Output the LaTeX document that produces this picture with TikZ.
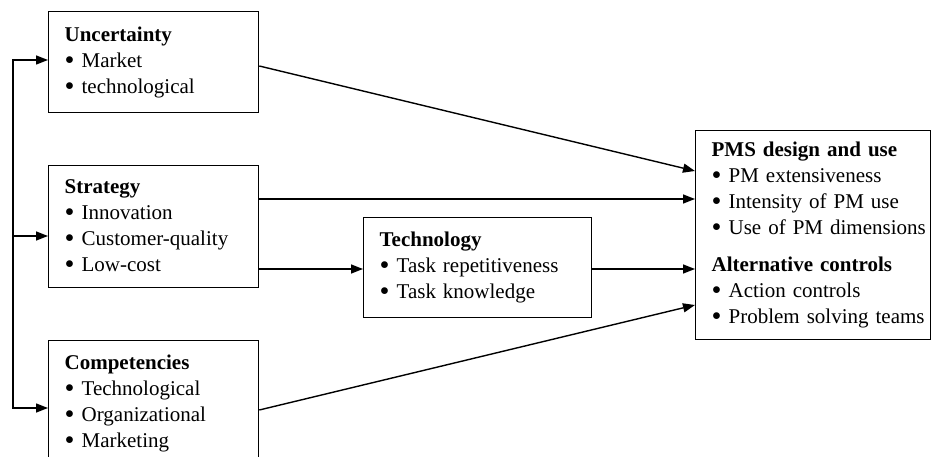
\documentclass[tikz,border=0pt]{standalone}
\usepackage{fontspec}
\setmainfont{Liberation Serif}
\usetikzlibrary{arrows.meta,calc}
\newcommand{\bul}[1]{\mbox{\makebox[17pt][l]{\raisebox{-2.2pt}{\scalebox{1.35}{\textbullet}}}#1}}
\newcommand{\boxfont}{\fontsize{21pt}{26pt}\selectfont\hyphenpenalty=10000\relax}
\begin{document}
\begin{tikzpicture}[x=1pt,y=-1pt,
  box/.style={draw, line width=1.3pt, anchor=north west, inner xsep=16pt, inner ysep=0pt,
    align=left, font=\boxfont},
  arr/.style={line width=1.4pt, -{Triangle[length=12pt,width=9pt]}},
  conn/.style={line width=1.4pt}]
\clip (0,0) rectangle (932,457);
\useasboundingbox (0,0) rectangle (932,457);
\node[box, text width=178pt, minimum height=101pt] (unc) at (48,11)
  {\textbf{Uncertainty}\\ \bul{Market}\\ \bul{technological}};
\node[box, text width=178pt, minimum height=122pt] (str) at (48,165)
  {\textbf{Strategy}\\ \bul{Innovation}\\ \bul{Customer-quality}\\ \bul{Low-cost}};
\node[box, text width=178pt, minimum height=126pt] (com) at (48,340)
  {\textbf{Competencies}\\ \bul{Technological}\\ \bul{Organizational}\\ \bul{Marketing}};
\node[box, text width=196pt, minimum height=100pt] (tec) at (363,217)
  {\textbf{Technology}\\ \bul{Task repetitiveness}\\ \bul{Task knowledge}};
\node[box, text width=203pt, minimum height=209pt] (pms) at (695,130)
  {\mbox{\textbf{PMS design and use}}\\ \bul{PM extensiveness}\\ \bul{Intensity of PM use}\\ \bul{Use of PM dimensions}\\[11pt]
   \mbox{\textbf{Alternative controls}}\\ \bul{Action controls}\\ \bul{Problem solving teams}};
% left feed lines
\coordinate (top) at (13,60);
\coordinate (mid) at (13,236);
\coordinate (bot) at (13,408);
\draw[line width=1.4pt, {Triangle[length=12pt,width=9pt]}-{Triangle[length=12pt,width=9pt]}]
  (top -| unc.west) -- (top) -- (bot) -- (bot -| com.west);
\draw[arr] (mid) -- (mid -| str.west);
% connections to PMS
\draw[arr] ([yshift=-55pt]unc.north east) -- ([yshift=-41pt]pms.north west);
\coordinate (s1) at ([yshift=-34pt]str.north east);
\draw[arr] (s1) -- (s1 -| pms.west);
\coordinate (s2) at ([yshift=-104pt]str.north east);
\draw[arr] (s2) -- (s2 -| tec.west);
\coordinate (t1) at ([yshift=-52pt]tec.north east);
\draw[arr] (t1) -- (t1 -| pms.west);
\draw[arr] ([yshift=-70pt]com.north east) -- ([yshift=-175pt]pms.north west);
\end{tikzpicture}
\end{document}
